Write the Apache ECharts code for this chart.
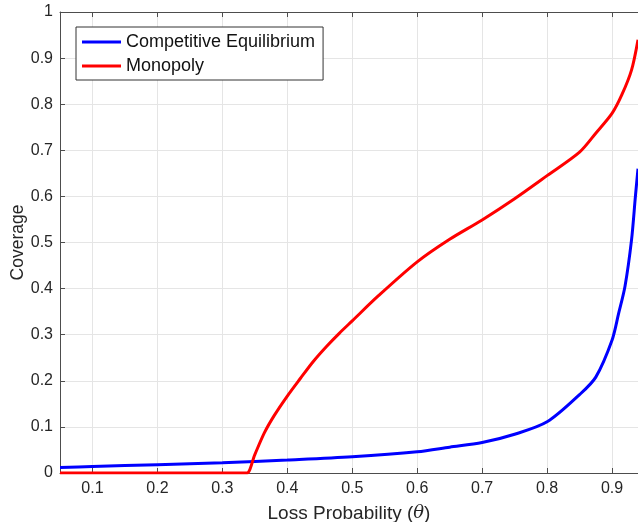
<!DOCTYPE html>
<html>
<head>
<meta charset="utf-8">
<script src="https://cdn.jsdelivr.net/npm/echarts@6/dist/echarts.min.js"></script>
<style>
  html, body { margin: 0; padding: 0; background: #fff; }
  #chart { width: 638px; height: 522px; }
</style>
</head>
<body>
<div id="chart"></div>
<script>
// Competitive equilibrium coverage
const ceTheta = [0.05, 0.1, 0.2, 0.3, 0.4, 0.5, 0.6, 0.65, 0.7, 0.75, 0.8, 0.85, 0.875, 0.9, 0.91, 0.92, 0.93, 0.936, 0.94]
const ceCoverage = [0.012, 0.014, 0.018, 0.022, 0.028, 0.035, 0.046, 0.056, 0.066, 0.084, 0.111, 0.17, 0.208, 0.288, 0.345, 0.405, 0.505, 0.6, 0.66]
// Monopoly coverage
const monoTheta = [0.05, 0.33, 0.338, 0.35, 0.365, 0.38, 0.4, 0.42, 0.44, 0.46, 0.48, 0.5, 0.54, 0.6, 0.65, 0.7, 0.75, 0.8, 0.85, 0.875, 0.9, 0.915, 0.93, 0.94]
const monoCoverage = [0, 0, 0, 0.04, 0.088, 0.125, 0.167, 0.205, 0.242, 0.274, 0.303, 0.33, 0.384, 0.458, 0.507, 0.549, 0.595, 0.645, 0.696, 0.737, 0.78, 0.82, 0.874, 0.94]

const seriesNames = ['Competitive Equilibrium', 'Monopoly']
const font = "'Liberation Sans', Arial, Helvetica, sans-serif"
const axisColor = '#4d4d4d'
const textColor = '#262626'

const zip = (xs, ys) => xs.map((x, i) => [x, ys[i]])

const chart = echarts.init(document.getElementById('chart'), null, { renderer: 'canvas' })

chart.setOption({
  animation: false,
  backgroundColor: '#fff',
  grid: { left: 60, right: 0, top: 12, bottom: 49, outerBoundsMode: 'none', containLabel: false },
  legend: {
    data: seriesNames,
    orient: 'vertical',
    left: 76,
    top: 27,
    padding: [6, 8, 5, 6],
    itemGap: 6,
    itemWidth: 39,
    itemHeight: 3,
    icon: 'rect',
    borderColor: '#333',
    borderWidth: 1,
    backgroundColor: '#fff',
    textStyle: { fontFamily: font, fontSize: 18, color: '#111' }
  },
  xAxis: [
    {
      type: 'value',
      min: 0.05,
      max: 0.94,
      splitNumber: 9,
      name: 'Loss Probability ({t|θ})',
      nameLocation: 'middle',
      nameGap: 31,
      nameMoveOverlap: false,
      nameTextStyle: {
        fontFamily: font, fontSize: 19, color: textColor,
        rich: { t: { fontFamily: "'DejaVu Serif', serif", fontStyle: 'italic', fontSize: 18, color: textColor } }
      },
      axisLine: { lineStyle: { color: axisColor, width: 1 } },
      axisTick: { inside: true, length: 5, lineStyle: { color: axisColor } },
      axisLabel: { fontFamily: font, fontSize: 16, color: textColor, margin: 8, showMinLabel: false, showMaxLabel: false },
      splitLine: { show: true, lineStyle: { color: '#e5e5e5' } }
    },
    {
      type: 'value',
      position: 'top',
      min: 0.05,
      max: 0.94,
      splitNumber: 9,
      axisLine: { show: true, lineStyle: { color: axisColor, width: 1 } },
      axisTick: { show: true, inside: true, length: 5, lineStyle: { color: axisColor } },
      axisLabel: { show: false },
      splitLine: { show: false }
    }
  ],
  yAxis: {
    type: 'value',
    min: 0,
    max: 1,
    interval: 0.1,
    name: 'Coverage',
    nameLocation: 'middle',
    nameGap: 33,
    nameMoveOverlap: false,
    nameTextStyle: { fontFamily: font, fontSize: 17.5, color: textColor },
    axisLine: { show: true, lineStyle: { color: axisColor, width: 1 } },
    axisTick: { show: true, inside: true, length: 5, lineStyle: { color: axisColor } },
    axisLabel: { fontFamily: font, fontSize: 16, color: textColor, margin: 7 },
    splitLine: { show: true, lineStyle: { color: '#e5e5e5' } }
  },
  series: [
    {
      name: seriesNames[0],
      type: 'line',
      data: zip(ceTheta, ceCoverage),
      smooth: 0.3,
      showSymbol: false,
      color: '#0000ff',
      lineStyle: { width: 3, color: '#0000ff' },
      z: 3
    },
    {
      name: seriesNames[1],
      type: 'line',
      data: zip(monoTheta, monoCoverage),
      smooth: 0.3,
      showSymbol: false,
      color: '#ff0000',
      lineStyle: { width: 3, color: '#ff0000' },
      z: 4
    }
  ]
})
</script>
</body>
</html>
